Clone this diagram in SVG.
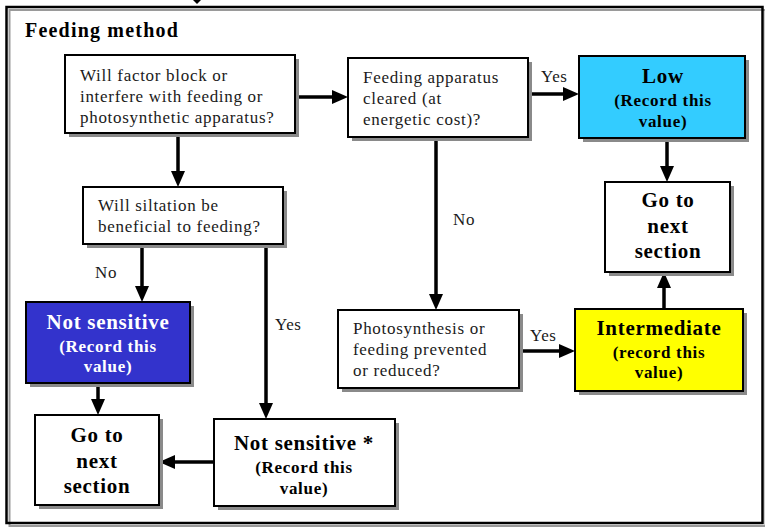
<svg xmlns="http://www.w3.org/2000/svg" width="765" height="529" viewBox="0 0 765 529">
  <defs>
    <marker id="head" markerUnits="userSpaceOnUse" markerWidth="16" markerHeight="14" refX="8" refY="7" orient="auto">
      <path d="M0,0 L16,7 L0,14 z" fill="#000"/>
    </marker>
  </defs>
  <style>
    .shadow { fill: #8a8a8a; }
    .box { stroke: #000; stroke-width: 2; }
    .q { font-family: "Liberation Serif", "Times New Roman", serif; font-size: 17px; letter-spacing: 0.7px; fill: #1a1a1a; }
    .lbl { font-family: "Liberation Serif", "Times New Roman", serif; font-size: 17px; letter-spacing: 0.6px; fill: #1a1a1a; }
    .big { font-family: "Liberation Serif", "Times New Roman", serif; font-size: 21px; font-weight: bold; letter-spacing: 0.7px; text-anchor: middle; fill: #000; }
    .sub { font-family: "Liberation Serif", "Times New Roman", serif; font-size: 17px; font-weight: bold; letter-spacing: 0.7px; text-anchor: middle; fill: #000; }
    .white { fill: #fff; }
    .conn line { stroke: #000; stroke-width: 3.5; marker-end: url(#head); }
  </style>

  <rect width="765" height="529" fill="#fff"/>

  <!-- outer frame with offset shadow -->
  <rect x="9.5" y="10" width="756" height="516" fill="none" stroke="#9a9a9a" stroke-width="2"/>
  <rect x="6.5" y="7" width="756" height="516" fill="none" stroke="#000" stroke-width="2.5"/>
  <text x="25" y="37" font-family="Liberation Serif, Times New Roman, serif" font-size="20" font-weight="bold" letter-spacing="1.2" fill="#000">Feeding method</text>

  <!-- connectors -->
  <g id="connectors" class="conn">
    <path d="M193,0 L201,0 L197,4 z" fill="#000"/>
    <line x1="295" y1="97" x2="340" y2="97"/>
    <line x1="178" y1="133" x2="178" y2="179"/>
    <line x1="528" y1="94" x2="571" y2="94"/>
    <line x1="436" y1="137" x2="436" y2="302"/>
    <line x1="142" y1="244" x2="142" y2="294"/>
    <line x1="266" y1="244" x2="266" y2="411"/>
    <line x1="667" y1="138" x2="667" y2="174"/>
    <line x1="519" y1="351" x2="567" y2="351"/>
    <line x1="664" y1="309" x2="664" y2="280"/>
    <line x1="98" y1="383" x2="98" y2="407"/>
    <line x1="214" y1="462" x2="167" y2="462"/>
  </g>

  <!-- edge labels -->
  <g id="edge-labels">
    <text class="lbl" x="541" y="82">Yes</text>
    <text class="lbl" x="95" y="278">No</text>
    <text class="lbl" x="275" y="330">Yes</text>
    <text class="lbl" x="453" y="225">No</text>
    <text class="lbl" x="530" y="341">Yes</text>
  </g>

  <g id="q-block">
    <rect class="shadow" x="69" y="59" width="230" height="78"/>
    <rect class="box" x="65" y="55" width="230" height="78" fill="#fff"/>
    <text class="q" x="80" y="81">Will factor block or</text>
    <text class="q" x="80" y="102">interfere with feeding or</text>
    <text class="q" x="80" y="123">photosynthetic apparatus?</text>
  </g>

  <g id="q-cleared">
    <rect class="shadow" x="352" y="62" width="180" height="79"/>
    <rect class="box" x="348" y="58" width="180" height="79" fill="#fff"/>
    <text class="q" x="363" y="83">Feeding apparatus</text>
    <text class="q" x="363" y="104">cleared (at</text>
    <text class="q" x="363" y="125">energetic cost)?</text>
  </g>

  <g id="low">
    <rect class="shadow" x="583" y="60" width="166" height="82"/>
    <rect class="box" x="579" y="56" width="166" height="82" fill="#33ccff"/>
    <text class="big" x="663" y="83">Low</text>
    <text class="sub" x="663" y="106">(Record this</text>
    <text class="sub" x="663" y="127">value)</text>
  </g>

  <g id="q-siltation">
    <rect class="shadow" x="87" y="191" width="200" height="57"/>
    <rect class="box" x="83" y="187" width="200" height="57" fill="#fff"/>
    <text class="q" x="98" y="211">Will siltation be</text>
    <text class="q" x="98" y="232">beneficial to feeding?</text>
  </g>

  <g id="goto-right">
    <rect class="shadow" x="609" y="186" width="125" height="90"/>
    <rect class="box" x="605" y="182" width="125" height="90" fill="#fff"/>
    <text class="big" x="668" y="207">Go to</text>
    <text class="big" x="668" y="233">next</text>
    <text class="big" x="668" y="258">section</text>
  </g>

  <g id="not-sensitive">
    <rect class="shadow" x="30" y="306" width="164" height="81"/>
    <rect class="box" x="26" y="302" width="164" height="81" fill="#3333cc"/>
    <text class="big white" x="108" y="329">Not sensitive</text>
    <text class="sub white" x="108" y="352">(Record this</text>
    <text class="sub white" x="108" y="372">value)</text>
  </g>

  <g id="q-prevented">
    <rect class="shadow" x="342" y="314" width="181" height="78"/>
    <rect class="box" x="338" y="310" width="181" height="78" fill="#fff"/>
    <text class="q" x="353" y="334">Photosynthesis or</text>
    <text class="q" x="353" y="355">feeding prevented</text>
    <text class="q" x="353" y="376">or reduced?</text>
  </g>

  <g id="intermediate">
    <rect class="shadow" x="579" y="313" width="168" height="82"/>
    <rect class="box" x="575" y="309" width="168" height="82" fill="#ffff00"/>
    <text class="big" x="659" y="335">Intermediate</text>
    <text class="sub" x="659" y="358">(record this</text>
    <text class="sub" x="659" y="378">value)</text>
  </g>

  <g id="goto-left">
    <rect class="shadow" x="39" y="419" width="124" height="90"/>
    <rect class="box" x="35" y="415" width="124" height="90" fill="#fff"/>
    <text class="big" x="97" y="442">Go to</text>
    <text class="big" x="97" y="468">next</text>
    <text class="big" x="97" y="493">section</text>
  </g>

  <g id="not-sensitive-star">
    <rect class="shadow" x="218" y="423" width="181" height="87"/>
    <rect class="box" x="214" y="419" width="181" height="87" fill="#fff"/>
    <text class="big" x="304" y="450">Not sensitive *</text>
    <text class="sub" x="304" y="473">(Record this</text>
    <text class="sub" x="304" y="494">value)</text>
  </g>
</svg>
